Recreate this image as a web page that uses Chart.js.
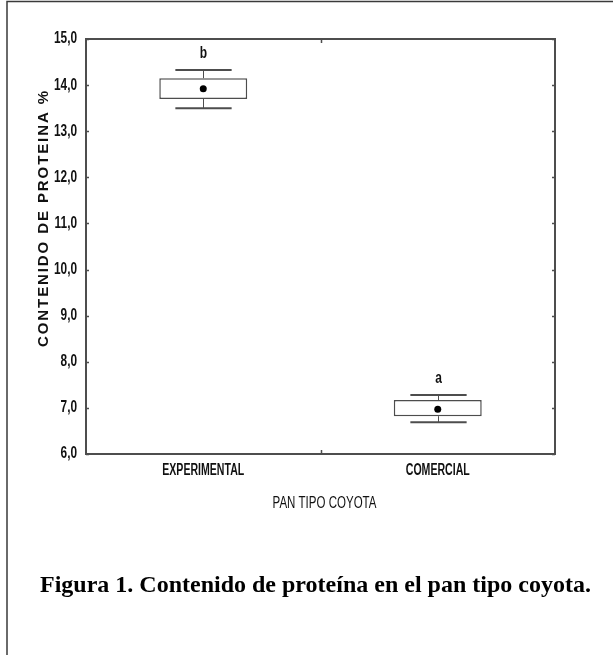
<!DOCTYPE html>
<html><head><meta charset="utf-8">
<script src="https://cdn.jsdelivr.net/npm/chart.js@4"></script>
<style>
body{margin:0;background:#fff}
#wrap{position:relative;width:613px;height:655px;overflow:hidden}
#caption{position:absolute;left:40px;top:571px;white-space:nowrap;font:bold 24px "Liberation Serif","Times New Roman",serif;color:#000}
</style></head>
<body><div id="wrap"><canvas id="c" width="613" height="655"></canvas>
<div id="caption">Figura 1. Contenido de proteína en el pan tipo coyota.</div></div>
<script>
const categories = ['EXPERIMENTAL', 'COMERCIAL'];
const whiskerMin = [13.50, 6.69];
const q1 = [13.70, 6.82];
const mean = [13.92, 6.97];
const q3 = [14.15, 7.17];
const whiskerMax = [14.33, 7.28];
const groupLetters = ['b', 'a'];
const yMin = 6, yMax = 15, yStep = 1;
const xTitle = 'PAN TIPO COYOTA';
const yTitle = 'CONTENIDO DE PROTEINA %';

const AXIS = '#4d4d4d';
const SANS = '"Liberation Sans",Arial,sans-serif';

function narrowText(ctx, text, x, y, font, sx, align) {
  ctx.save();
  ctx.font = font;
  ctx.textAlign = align;
  ctx.textBaseline = 'middle';
  ctx.translate(x, y);
  ctx.scale(sx, 1);
  ctx.fillText(text, 0, 0);
  ctx.restore();
}

const boxPlugin = {
  id: 'boxExtras',
  beforeDraw(chart) {
    const ctx = chart.ctx;
    ctx.save();
    ctx.strokeStyle = '#3a3a3a';
    ctx.lineWidth = 1.5;
    ctx.beginPath();
    ctx.moveTo(7, 655); ctx.lineTo(7, 1.5); ctx.lineTo(613, 1.5);
    ctx.stroke();
    ctx.restore();
  },
  afterDatasetsDraw(chart) {
    const ctx = chart.ctx, x = chart.scales.x, y = chart.scales.y, a = chart.chartArea;
    const catW = x.getPixelForValue(1) - x.getPixelForValue(0);
    const capHalf = catW * 0.12;
    ctx.save();
    ctx.fillStyle = '#111';
    ctx.strokeStyle = AXIS;
    categories.forEach((c, i) => {
      const cx = Math.round(x.getPixelForValue(i)) + 0.5;
      ctx.lineWidth = 1;
      ctx.beginPath();
      ctx.moveTo(cx, y.getPixelForValue(q3[i])); ctx.lineTo(cx, y.getPixelForValue(whiskerMax[i]));
      ctx.moveTo(cx, y.getPixelForValue(q1[i])); ctx.lineTo(cx, y.getPixelForValue(whiskerMin[i]));
      ctx.stroke();
      ctx.lineWidth = 2;
      ctx.beginPath();
      ctx.moveTo(cx - capHalf, y.getPixelForValue(whiskerMax[i])); ctx.lineTo(cx + capHalf, y.getPixelForValue(whiskerMax[i]));
      ctx.moveTo(cx - capHalf, y.getPixelForValue(whiskerMin[i])); ctx.lineTo(cx + capHalf, y.getPixelForValue(whiskerMin[i]));
      ctx.stroke();
      narrowText(ctx, groupLetters[i], cx, y.getPixelForValue(whiskerMax[i]) - 16, 'bold 16px ' + SANS, 0.75, 'center');
      narrowText(ctx, c, x.getPixelForValue(i), 471, 'bold 16px ' + SANS, 0.66, 'center');
    });
    y.ticks.forEach(t => {
      narrowText(ctx, t.value.toFixed(1).replace('.', ','), 77, y.getPixelForValue(t.value), 'bold 16px ' + SANS, 0.74, 'right');
    });
    ctx.strokeStyle = AXIS;
    ctx.lineWidth = 2;
    ctx.strokeRect(a.left, a.top, a.right - a.left, a.bottom - a.top);
    ctx.lineWidth = 1.5;
    ctx.beginPath();
    y.ticks.forEach(t => {
      const py = Math.round(y.getPixelForValue(t.value)) + 0.5;
      ctx.moveTo(a.left, py); ctx.lineTo(a.left + 3, py);
      ctx.moveTo(a.right, py); ctx.lineTo(a.right - 3, py);
    });
    for (let i = 0; i < categories.length - 1; i++) {
      const px = Math.round((x.getPixelForValue(i) + x.getPixelForValue(i + 1)) / 2) + 0.5;
      ctx.moveTo(px, a.top); ctx.lineTo(px, a.top + 4);
      ctx.moveTo(px, a.bottom); ctx.lineTo(px, a.bottom - 4);
    }
    ctx.stroke();
    narrowText(ctx, xTitle, (a.left + a.right) / 2 + 4, 504, '16px ' + SANS, 0.72, 'center');
    ctx.save();
    ctx.translate(44, 218);
    ctx.rotate(-Math.PI / 2);
    ctx.font = 'bold 15px ' + SANS;
    ctx.textAlign = 'center';
    ctx.textBaseline = 'middle';
    ctx.letterSpacing = '1.9px';
    ctx.fillText(yTitle, 0, 0);
    ctx.restore();
    ctx.restore();
  }
};

new Chart(document.getElementById('c'), {
  data: {
    labels: categories,
    datasets: [
      {
        type: 'bar',
        order: 2,
        data: categories.map((c, i) => [q1[i], q3[i]]),
        backgroundColor: '#ffffff',
        borderColor: AXIS,
        borderWidth: 1.5,
        borderSkipped: false,
        barPercentage: 0.375,
        categoryPercentage: 1
      },
      {
        type: 'line',
        order: 1,
        data: mean,
        showLine: false,
        pointRadius: 3.5,
        pointBackgroundColor: '#000',
        pointBorderColor: '#000',
        pointBorderWidth: 0
      }
    ]
  },
  options: {
    responsive: false,
    devicePixelRatio: 1,
    animation: false,
    layout: { padding: { top: 39, right: 58, left: 0, bottom: 0 } },
    plugins: { legend: { display: false }, tooltip: { enabled: false } },
    scales: {
      x: {
        type: 'category',
        offset: true,
        grid: { display: false, drawTicks: false },
        border: { display: false },
        ticks: { display: false },
        afterFit(s) { s.height = 655 - 454; }
      },
      y: {
        min: yMin, max: yMax,
        grid: { display: false, drawTicks: false },
        border: { display: false },
        ticks: { display: false, stepSize: yStep },
        afterFit(s) { s.width = 86; }
      }
    }
  },
  plugins: [boxPlugin]
});
</script>
</body></html>
